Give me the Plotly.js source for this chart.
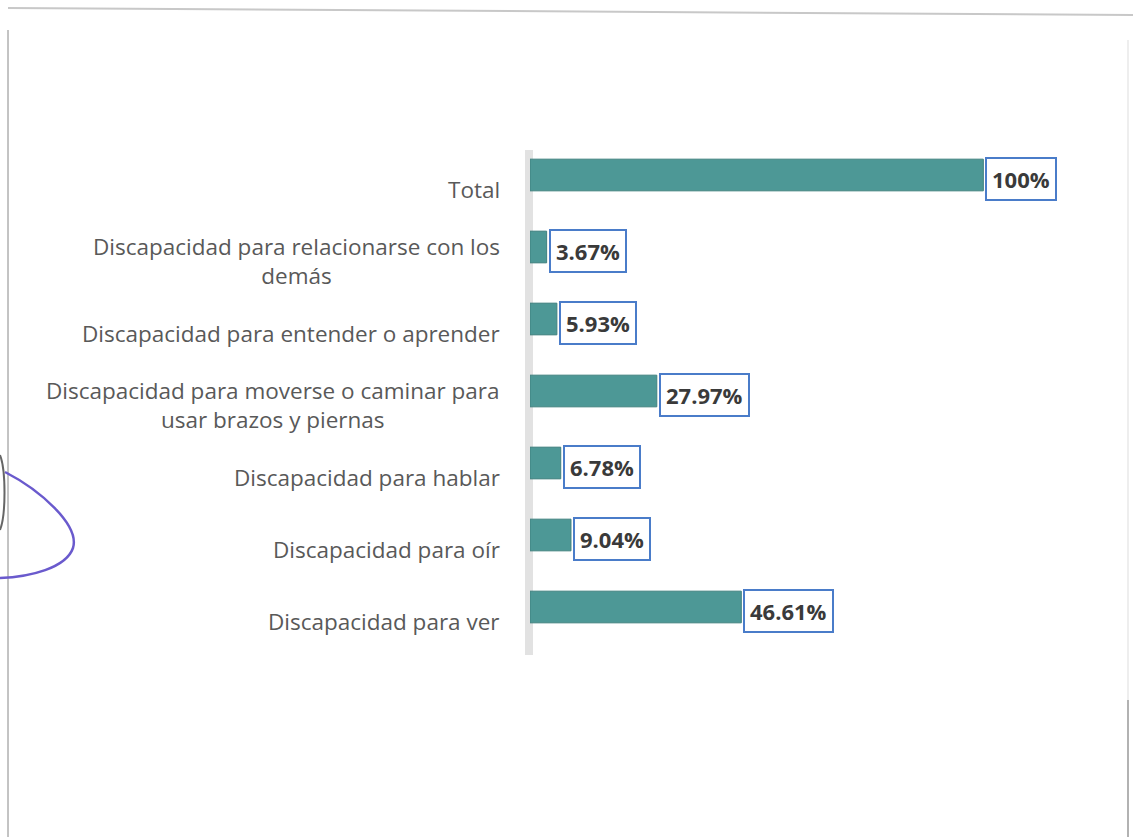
<!DOCTYPE html>
<html>
<head>
<meta charset="utf-8">
<script src="https://cdn.plot.ly/plotly-3.0.1.min.js"></script>
<style>html,body{margin:0;padding:0;background:#fff;}#chart{width:1133px;height:837px;}</style>
</head>
<body>
<div id="chart"></div>
<script>
// Data (bottom to top)
const categories = [
  "Discapacidad para ver",
  "Discapacidad para oír",
  "Discapacidad para hablar",
  "Discapacidad para moverse o caminar para<br>usar brazos y piernas",
  "Discapacidad para entender o aprender",
  "Discapacidad para relacionarse con los<br>demás",
  "Total"
];
const values = [46.61, 9.04, 6.78, 27.97, 5.93, 3.67, 100];
const valueLabels = ["46.61%", "9.04%", "6.78%", "27.97%", "5.93%", "3.67%", "100%"];

const L = 530, T = 139, W = 544, H = 504;
const px = x => (x - L) / W;
const py = y => (T + H - y) / H;

const annotations = [];
categories.forEach((c, i) => {
  annotations.push({
    xref: 'paper', yref: 'y', x: px(502), y: c, xanchor: 'right', yanchor: 'middle',
    text: c, showarrow: false, align: 'center', yshift: -14,
    font: {family: 'Open Sans, sans-serif', size: 22.5, color: '#595959'}
  });
  annotations.push({
    xref: 'x', yref: 'y', x: values[i], y: c, xanchor: 'left', yanchor: 'middle',
    text: '<b>' + valueLabels[i] + '</b>', showarrow: false, xshift: 2, yshift: -4,
    bgcolor: '#ffffff', bordercolor: '#4a7cc9', borderwidth: 2, borderpad: 5,
    font: {family: 'Open Sans, sans-serif', size: 22, color: '#3a3a3a'}
  });
});

const shapes = [
  // axis wall
  {type: 'rect', xref: 'paper', yref: 'paper', x0: px(525), x1: px(533), y0: py(655), y1: py(150),
   fillcolor: '#e2e2e2', line: {width: 0}, layer: 'below'},
  // scan page borders
  {type: 'line', xref: 'paper', yref: 'paper', x0: px(8), x1: px(1133), y0: py(8), y1: py(15),
   line: {color: '#c8c8c8', width: 2}},
  {type: 'line', xref: 'paper', yref: 'paper', x0: px(8), x1: px(8), y0: py(30), y1: py(837),
   line: {color: '#888888', width: 1}},
  {type: 'line', xref: 'paper', yref: 'paper', x0: px(1128), x1: px(1128), y0: py(40), y1: py(837),
   line: {color: '#dddddd', width: 1}},
  {type: 'line', xref: 'paper', yref: 'paper', x0: px(1128), x1: px(1128), y0: py(700), y1: py(837),
   line: {color: '#777777', width: 1}},
  // hand-drawn purple mark
  {type: 'path', xref: 'paper', yref: 'paper',
   path: 'M ' + px(5) + ',' + py(472) + ' C ' + px(40) + ',' + py(490) + ' ' + px(80) + ',' + py(525) + ' ' + px(73) + ',' + py(548) +
         ' C ' + px(66) + ',' + py(568) + ' ' + px(30) + ',' + py(577) + ' ' + px(0) + ',' + py(578),
   line: {color: '#6a5acd', width: 2.5}},
  {type: 'path', xref: 'paper', yref: 'paper',
   path: 'M ' + px(0) + ',' + py(455) + ' C ' + px(6) + ',' + py(470) + ' ' + px(6) + ',' + py(515) + ' ' + px(0) + ',' + py(530),
   line: {color: '#666666', width: 2}}
];

const trace = {
  type: 'bar', orientation: 'h', y: categories, x: values,
  marker: {color: '#4d9896', line: {color: '#3f807e', width: 1}},
  width: 0.44, hoverinfo: 'skip'
};

const layout = {
  width: 1133, height: 837,
  margin: {l: L, r: 1133 - L - W, t: T, b: 837 - T - H, pad: 0},
  paper_bgcolor: '#ffffff', plot_bgcolor: 'rgba(0,0,0,0)',
  xaxis: {range: [0, 120], showgrid: false, zeroline: false, showticklabels: false, showline: false, ticks: ''},
  yaxis: {type: 'category', categoryorder: 'array', categoryarray: categories, range: [-0.5, 6.5],
          showgrid: false, zeroline: false, showticklabels: false, showline: false, ticks: ''},
  showlegend: false,
  annotations: annotations,
  shapes: shapes
};

Plotly.newPlot('chart', [trace], layout, {displayModeBar: false, staticPlot: true});
</script>
</body>
</html>
